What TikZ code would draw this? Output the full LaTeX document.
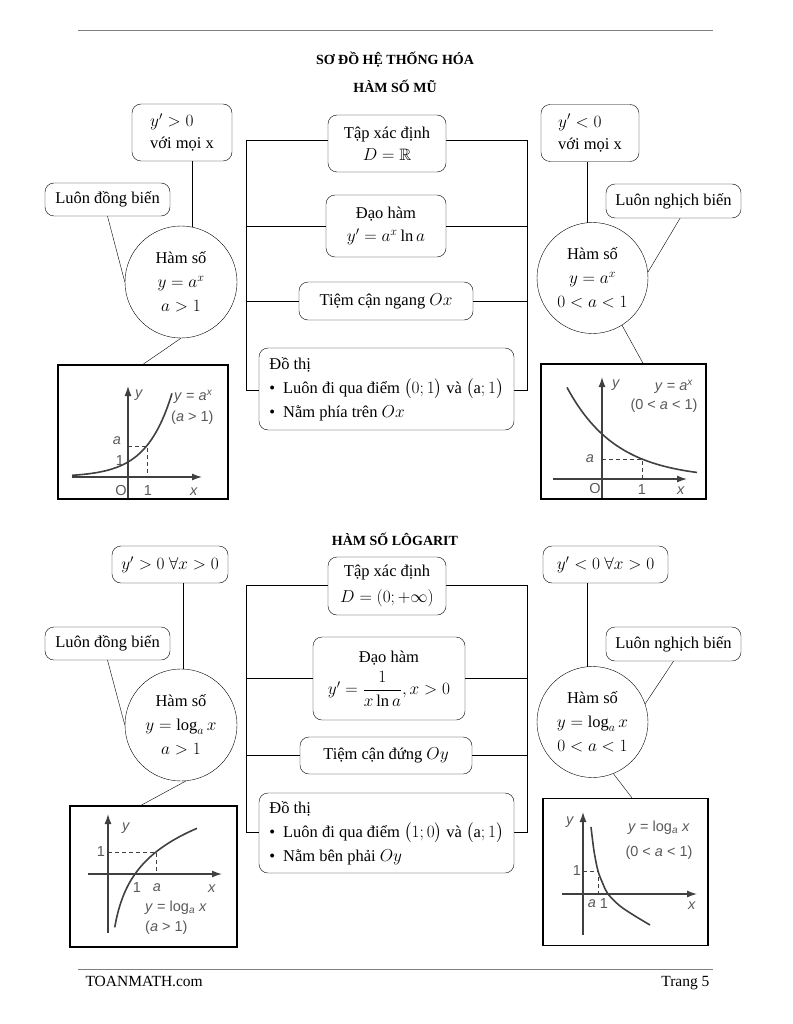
\documentclass[tikz,border=0pt]{standalone}
\usepackage{amsmath,amssymb}
\usepackage{fontspec}
\setmainfont{Liberation Serif}
\setsansfont{Liberation Sans}
\usetikzlibrary{arrows.meta}
\colorlet{plotgray}{black!75}
\colorlet{labgray}{black!65}
\newcommand{\plotfont}{\sffamily\fontsize{14.5}{16}\selectfont}

\begin{document}
\begin{tikzpicture}[x=1pt, y=-1pt,
    box/.style={draw, rounded corners=9pt, fill=white, align=center, inner sep=2pt, font=\fontsize{16.5}{22}\selectfont},
    rim/.style={draw, inner sep=0pt},
    bub/.style={draw, circle, fill=white, align=center, inner sep=0pt, font=\fontsize{16.5}{24}\selectfont},
    plotbox/.style={draw, line width=1.3pt, inner sep=0pt},
    head/.style={font=\bfseries\fontsize{14}{16}\selectfont},
    axisline/.style={line width=1.3pt, plotgray, -{Latex[length=10pt,width=7pt]}},
    curve/.style={line width=1.6pt, plotgray},
    guide/.style={line width=1pt, plotgray, dash pattern=on 4pt off 3pt},
    lab/.style={text=labgray, font=\plotfont, inner sep=0pt}
]
\useasboundingbox (0,0) rectangle (792,1024);
\draw[gray, line width=0.8pt] (78,30) -- (713,30);
\node[head] (t1) at (395,60) {SƠ ĐỒ HỆ THỐNG HÓA};
\node[head] (t2) at (395,86) {HÀM SỐ MŨ};

\node[rim, minimum width=281pt, minimum height=250pt] (fr1) at (386.5,265) {};
\node[box, minimum width=118pt, minimum height=57pt] (tx1) at (387,143.5) {Tập xác định\\$D=\mathbb{R}$};
\node[box, minimum width=120pt, minimum height=62pt] (dh1) at (386,226) {Đạo hàm\\[1pt]$y'=a^x\ln a$};
\node[box, minimum width=174pt, minimum height=38pt] (tc1) at (386,301) {Tiệm cận ngang $Ox$};
\node[box, align=left, minimum width=255pt, minimum height=82pt, font=\fontsize{16.5}{24}\selectfont] (dt1) at (386.5,389) {Đồ thị\\\textbullet\hspace{8pt}Luôn đi qua điểm $\bigl(0;1\bigr)$ và $\bigl(\mathrm{a};1\bigr)$\\\textbullet\hspace{8pt}Nằm phía trên $Ox$};
\draw (fr1.west |- dh1) -- (dh1.west) (dh1.east) -- (fr1.east |- dh1);
\draw (fr1.west |- tc1) -- (tc1.west) (tc1.east) -- (fr1.east |- tc1);

\node[box, align=left, minimum width=100pt, minimum height=57pt] (dp1) at (182,132.5) {$y'>0$\\với mọi x};
\node[box, minimum width=125pt, minimum height=33pt] (db1) at (107.5,199.5) {Luôn đồng biến};
\node[bub, minimum size=112pt] (ham1) at (181,282) {Hàm số\\$y=a^x$\\$a>1$};
\node[plotbox, minimum width=170pt, minimum height=134pt] (gr1) at (143,432) {};
\draw (ham1.78) -- (ham1.78 |- dp1.south);
\draw (db1.south) -- (ham1.west);
\draw (ham1.south) -- (gr1.north);

\draw[guide] (128,446) -- (147,446) -- (147,477);
\draw[axisline] (72,477) -- (202,477);
\draw[axisline] (128,498) -- (128,386);
\draw[curve] plot[domain=72:172, samples=40] (\x, {477-15*2.1^((\x-128)/19)});
\node[lab] (g1y) at (139,395) {\textit{y}};
\node[lab] (g1o) at (121,491) {O};
\node[lab] (g1one) at (148,491) {1};
\node[lab] (g1x) at (194,492) {\textit{x}};
\node[lab] (g1a) at (117,441) {\textit{a}};
\node[lab] (g1b) at (120,461) {1};
\node[lab, anchor=west] (g1f) at (174,397) {\textit{y} = \textit{a}\textsuperscript{\textit{x}}};
\node[lab, anchor=west] (g1c) at (171,418) {(\textit{a} > 1)};

\node[box, align=left, minimum width=98pt, minimum height=57pt] (dn1) at (590,133) {$y'<0$\\với mọi x};
\node[box, minimum width=135pt, minimum height=34pt] (nb1) at (673.5,201) {Luôn nghịch biến};
\node[bub, minimum size=111pt] (ham2) at (592.5,278) {Hàm số\\$y=a^x$\\$0<a<1$};
\node[plotbox, minimum width=165pt, minimum height=135pt] (gr2) at (623.5,431.5) {};
\draw (ham2.95) -- (ham2.95 |- dn1.south);
\draw (nb1.-69) -- (ham2.6);
\draw (ham2.-58) -- (gr2.74);

\draw[guide] (602,459) -- (642,459) -- (642,479);
\draw[axisline] (553,479) -- (687,479);
\draw[axisline] (602,498) -- (602,377);
\draw[curve] plot[domain=567:697, samples=40] (\x, {479-45*0.444^((\x-602)/40)});
\node[lab] (g2y) at (616,385) {\textit{y}};
\node[lab] (g2f) at (674,387) {\textit{y} = \textit{a}\textsuperscript{\textit{x}}};
\node[lab] (g2c) at (664,406) {(0 < \textit{a} < 1)};
\node[lab] (g2o) at (595,489) {O};
\node[lab] (g2one) at (642,490) {1};
\node[lab] (g2x) at (681,491) {\textit{x}};
\node[lab] (g2a) at (590,459) {\textit{a}};

\node[head] (t3) at (395,539) {HÀM SỐ LÔGARIT};

\node[rim, minimum width=281pt, minimum height=247pt] (fr2) at (386.5,708.5) {};
\node[box, minimum width=118pt, minimum height=58pt] (tx2) at (387,586) {Tập xác định\\[4pt]$D=(0;+\infty)$};
\node[box, minimum width=152pt, minimum height=83pt] (dh2) at (389,678.5) {Đạo hàm\\[6pt]$y'=\dfrac{1}{x\ln a},x>0$};
\node[box, minimum width=172pt, minimum height=37pt] (tc2) at (386,755.5) {Tiệm cận đứng $Oy$};
\node[box, align=left, minimum width=255pt, minimum height=80pt, font=\fontsize{16.5}{24}\selectfont] (dt2) at (386.5,833) {Đồ thị\\\textbullet\hspace{8pt}Luôn đi qua điểm $\bigl(1;0\bigr)$ và $\bigl(\mathrm{a};1\bigr)$\\\textbullet\hspace{8pt}Nằm bên phải $Oy$};
\draw (fr2.west |- dh2) -- (dh2.west) (dh2.east) -- (fr2.east |- dh2);
\draw (fr2.west |- tc2) -- (tc2.west) (tc2.east) -- (fr2.east |- tc2);

\node[box, minimum width=116pt, minimum height=37pt] (dp2) at (170,564.5) {$y'>0\ \forall x>0$};
\node[box, minimum width=125pt, minimum height=33pt] (db2) at (107.5,643.5) {Luôn đồng biến};
\node[bub, minimum size=112pt] (ham3) at (181,725) {Hàm số\\$y=\log_a x$\\$a>1$};
\node[plotbox, minimum width=167pt, minimum height=141pt] (gr3) at (153.5,876.5) {};
\draw (ham3.88) -- (ham3.88 |- dp2.south);
\draw (db2.south) -- (ham3.west);
\draw (ham3.-85) -- (gr3.100);

\draw[guide] (108,852) -- (156,852) -- (156,874);
\draw[axisline] (88,874) -- (222,874);
\draw[axisline] (108,933) -- (108,814);
\draw[curve] plot[domain=114.7:197, samples=50] (\x, {874-38.3*ln((\x-108)/27)});
\node[lab] (g3y) at (126,828) {\textit{y}};
\node[lab] (g3b) at (101,852) {1};
\node[lab] (g3one) at (137,888) {1};
\node[lab] (g3a) at (157,888) {\textit{a}};
\node[lab] (g3x) at (212,889) {\textit{x}};
\node[lab, anchor=west] (g3f) at (145,908) {\textit{y} = log\textsubscript{\textit{a}} \textit{x}};
\node[lab, anchor=west] (g3c) at (145,928) {(\textit{a} > 1)};

\node[box, minimum width=125pt, minimum height=37pt] (dn2) at (605.5,564.5) {$y'<0\ \forall x>0$};
\node[box, minimum width=135pt, minimum height=34pt] (nb2) at (673.5,644) {Luôn nghịch biến};
\node[bub, minimum size=111pt] (ham4) at (592.5,722) {Hàm số\\$y=\log_a x$\\$0<a<1$};
\node[plotbox, minimum width=165pt, minimum height=147pt] (gr4) at (625.5,872) {};
\draw (ham4.95) -- (ham4.95 |- dn2.south);
\draw (nb2.south) -- (ham4.19);
\draw (ham4.-68) -- (gr4.85);

\draw[guide] (583,871) -- (598,871) -- (598,894);
\draw[axisline] (562,894) -- (697,894);
\draw[axisline] (583,935) -- (583,812);
\draw[curve] plot[smooth] coordinates {(591,827) (594,851) (598,871) (603,884) (608,894) (620,906) (635,916) (650,925)};
\node[lab] (g4y) at (570,822) {\textit{y}};
\node[lab] (g4f) at (659,828) {\textit{y} = log\textsubscript{\textit{a}} \textit{x}};
\node[lab] (g4c) at (659,853) {(0 < \textit{a} < 1)};
\node[lab] (g4b) at (577,871) {1};
\node[lab] (g4a) at (592,904) {\textit{a}};
\node[lab] (g4one) at (604,904) {1};
\node[lab] (g4x) at (692,906) {\textit{x}};

\draw[gray, line width=0.8pt] (78,969) -- (713,969);
\node[anchor=base west, font=\fontsize{15.5}{18}\selectfont] (site) at (82,986) {TOANMATH.com};
\node[anchor=base east, font=\fontsize{15.5}{18}\selectfont] (page) at (713,986) {Trang 5};
\end{tikzpicture}
\end{document}
